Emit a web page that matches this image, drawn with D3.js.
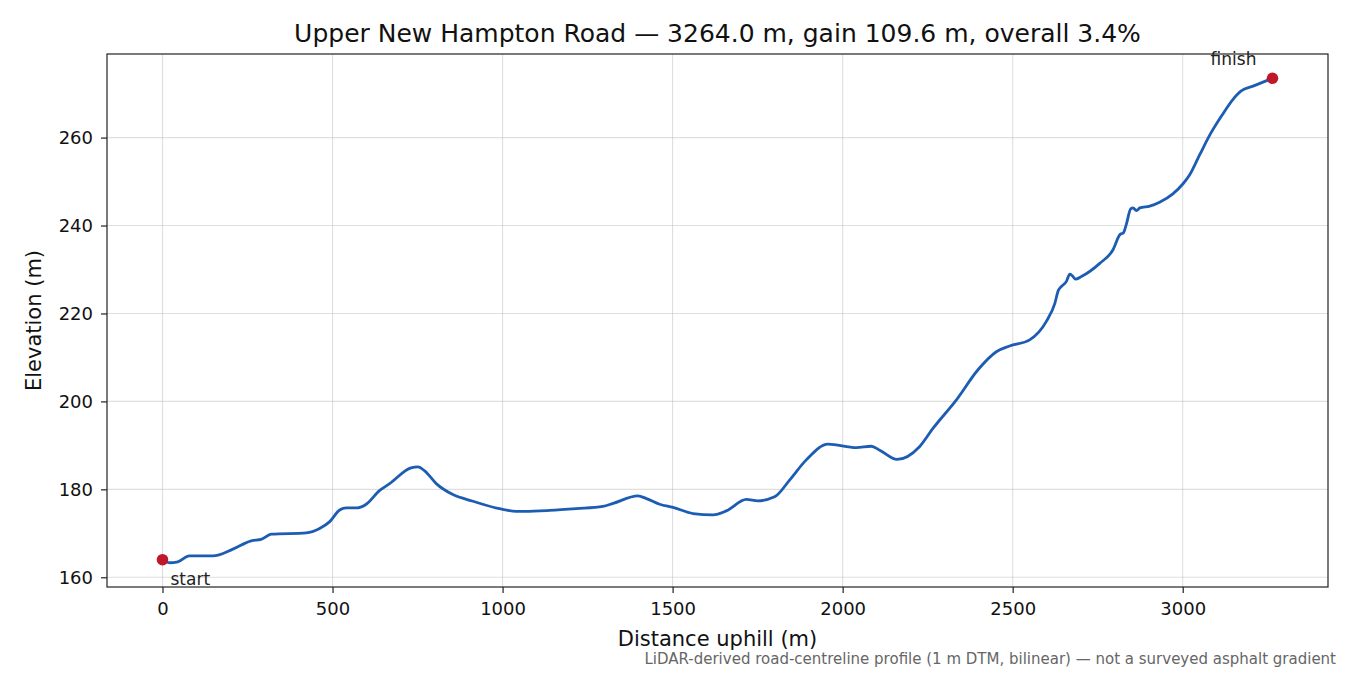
<!DOCTYPE html>
<html><head><meta charset="utf-8">
<script src="https://cdn.jsdelivr.net/npm/d3@7"></script>
<style>body{margin:0;background:#fff}svg{display:block;font-family:"DejaVu Sans",sans-serif}</style>
</head><body>
<svg id="c" width="1350" height="675"></svg>
<script>
const title = "Upper New Hampton Road \u2014 3264.0 m, gain 109.6 m, overall 3.4%";
const xLabel = "Distance uphill (m)";
const yLabel = "Elevation (m)";
const note = "LiDAR-derived road-centreline profile (1 m DTM, bilinear) \u2014 not a surveyed asphalt gradient";
const xTicks = [0, 500, 1000, 1500, 2000, 2500, 3000];
const yTicks = [160, 180, 200, 220, 240, 260];
const distance = [0,20,45,79,148,207,261,290,320,423,462,491,521,540,574,599,638,668,731,751,771,805,854,913,991,1040,1065,1138,1217,1295,1325,1398,1423,1462,1501,1560,1619,1658,1717,1751,1800,1844,1893,1957,2040,2084,2109,2160,2226,2266,2334,2398,2452,2491,2550,2599,2624,2634,2643,2658,2668,2675,2685,2702,2756,2795,2815,2826,2834,2847,2854,2864,2874,2903,2932,2971,3001,3021,3050,3079,3114,3148,3172,3207,3264];
const elevation = [164.0,163.3,163.5,164.85,164.85,166.4,168.3,168.6,169.8,170.1,171.1,172.6,175.3,175.8,175.8,176.6,179.7,181.3,184.9,185.1,184.2,181.3,178.8,177.3,175.6,175.0,175.0,175.2,175.6,176.1,176.8,178.5,177.9,176.6,175.9,174.5,174.2,175.1,177.7,177.4,178.3,182.1,186.7,190.3,189.5,189.8,188.9,186.8,189.7,193.9,200.3,207.2,211.3,212.6,214.0,218.2,222.3,225.2,226.1,227.3,228.95,228.6,227.8,228.4,231.4,234.5,237.9,238.4,240.2,243.8,244.0,243.4,244.0,244.4,245.3,247.2,249.5,251.6,256.1,260.5,264.9,268.7,270.6,271.7,273.5];

const svg = d3.select("#c");
const L = 107, R = 1328, T = 54, B = 587;
const xmin = 0, xmax = 3264, ymin = d3.min(elevation), ymax = d3.max(elevation);
const xpad = (xmax - xmin) * 0.05, ypad = (ymax - ymin) * 0.05;
const x = d3.scaleLinear().domain([xmin - xpad, xmax + xpad]).range([L, R]);
const y = d3.scaleLinear().domain([ymin - ypad, ymax + ypad]).range([B, T]);

// grid
const g = svg.append("g");
g.selectAll(".gx").data(xTicks).join("line")
  .attr("x1", d => x(d)).attr("x2", d => x(d)).attr("y1", T).attr("y2", B)
  .attr("stroke", "#b0b0b0").attr("stroke-opacity", 0.4).attr("stroke-width", 1.1);
g.selectAll(".gy").data(yTicks).join("line")
  .attr("y1", d => y(d)).attr("y2", d => y(d)).attr("x1", L).attr("x2", R)
  .attr("stroke", "#b0b0b0").attr("stroke-opacity", 0.4).attr("stroke-width", 1.1);

// line
const data = distance.map((d, i) => [d, elevation[i]]);
svg.append("path").datum(data)
  .attr("fill", "none").attr("stroke", "#1c5db3").attr("stroke-width", 2.8)
  .attr("stroke-linejoin", "round").attr("stroke-linecap", "round")
  .attr("d", d3.line().x(d => x(d[0])).y(d => y(d[1])).curve(d3.curveMonotoneX));

// endpoints
const ends = [data[0], data[data.length - 1]];
svg.selectAll(".dot").data(ends).join("circle")
  .attr("cx", d => x(d[0])).attr("cy", d => y(d[1])).attr("r", 5.8).attr("fill", "#c0182a");
svg.append("text").attr("x", x(data[0][0]) + 8).attr("y", y(data[0][1]) + 25)
  .attr("font-size", 17).attr("fill", "#222").text("start");
svg.append("text").attr("x", x(ends[1][0]) - 39).attr("y", y(ends[1][1]) - 13)
  .attr("font-size", 17).attr("fill", "#222").attr("text-anchor", "middle").text("finish");

// frame
svg.append("rect").attr("x", L).attr("y", T).attr("width", R - L).attr("height", B - T)
  .attr("fill", "none").attr("stroke", "#222").attr("stroke-width", 1.2);

// axes
const xa = svg.append("g").attr("transform", `translate(0,${B})`)
  .call(d3.axisBottom(x).tickValues(xTicks).tickSize(6).tickPadding(9).tickFormat(d3.format("d")));
const ya = svg.append("g").attr("transform", `translate(${L},0)`)
  .call(d3.axisLeft(y).tickValues(yTicks).tickSize(6).tickPadding(8).tickFormat(d3.format("d")));
[xa, ya].forEach(a => {
  a.select(".domain").remove();
  a.selectAll("line").attr("stroke", "#222").attr("stroke-width", 1.2);
  a.selectAll("text").attr("font-size", 18).attr("fill", "#111").attr("font-family", "DejaVu Sans");
});

// labels
svg.append("text").attr("x", (L + R) / 2).attr("y", 42).attr("text-anchor", "middle")
  .attr("font-size", 25).attr("fill", "#111").text(title);
svg.append("text").attr("x", (L + R) / 2).attr("y", 646).attr("text-anchor", "middle")
  .attr("font-size", 21).attr("fill", "#111").text(xLabel);
svg.append("text").attr("transform", `translate(41,${(T + B) / 2}) rotate(-90)`).attr("text-anchor", "middle")
  .attr("font-size", 21).attr("fill", "#111").text(yLabel);
svg.append("text").attr("x", 1336).attr("y", 664).attr("text-anchor", "end")
  .attr("font-size", 15).attr("fill", "#666").text(note);
</script>
</body></html>
